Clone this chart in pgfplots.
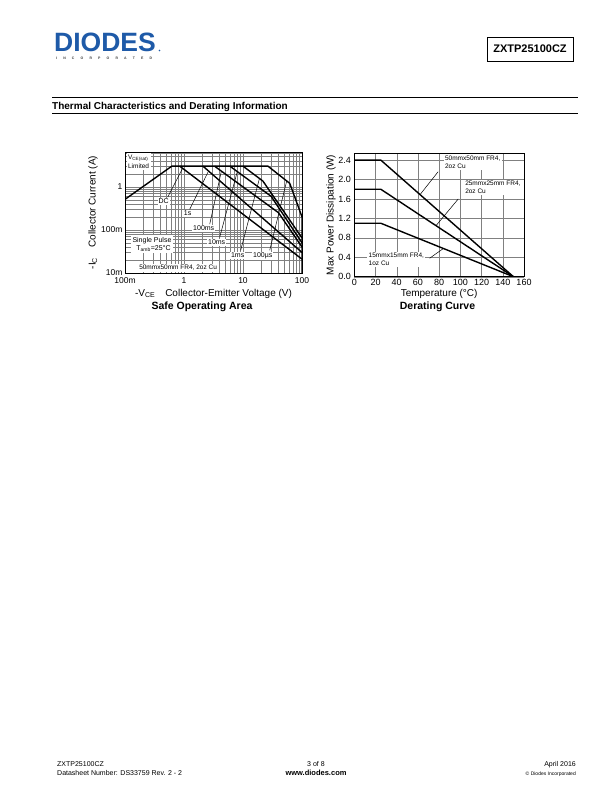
\documentclass[border=0pt]{standalone}
\usepackage{pgfplots}
\pgfplotsset{compat=1.18}
\usepackage{fontspec}
\setmainfont{Liberation Sans}
\definecolor{diodesblue}{RGB}{30,90,168}
\definecolor{gridgray}{gray}{0.5}
\newcommand{\fs}[1]{\fontsize{#1}{#1}\selectfont}
\begin{document}
\begin{tikzpicture}
\useasboundingbox[fill=white] (0,0) rectangle (612pt,-792pt);
% ---------- header ----------
\node[anchor=base west, inner sep=0, text=diodesblue, font=\fs{26.5}\bfseries] at (54pt,-52pt) {DIODES};
\fill[diodesblue] (159.5pt,-50.5pt) circle (0.9pt);
\node[anchor=base west, inner sep=0, text=black!75, font=\fs{3.5}\bfseries] at (56pt,-59.5pt) {\hbox to 96pt{I\hfill N\hfill C\hfill O\hfill R\hfill P\hfill O\hfill R\hfill A\hfill T\hfill E\hfill D}};
\draw[line width=0.8pt] (487pt,-37pt) rectangle (573pt,-61pt);
\node[font=\fs{11}\bfseries, inner sep=0] at (530pt,-49pt) {ZXTP25100CZ};
\draw[line width=1pt] (52pt,-97pt) -- (578pt,-97pt);
\node[anchor=base west, inner sep=0, font=\fs{10}\bfseries] at (52pt,-109pt) {Thermal Characteristics and Derating Information};
\draw[line width=0.6pt] (52pt,-113pt) -- (578pt,-113pt);
% ---------- footer ----------
\node[anchor=base west, inner sep=0, font=\fs{7}] at (57pt,-766pt) {ZXTP25100CZ};
\node[anchor=base west, inner sep=0, font=\fs{7}] at (57pt,-775pt) {Datasheet Number: DS33759 Rev. 2 - 2};
\node[anchor=base, inner sep=0, font=\fs{7}] at (316pt,-766pt) {3 of 8};
\node[anchor=base, inner sep=0, font=\fs{7.5}\bfseries] at (316pt,-775pt) {www.diodes.com};
\node[anchor=base east, inner sep=0, font=\fs{7}] at (576pt,-766pt) {April 2016};
\node[anchor=base east, inner sep=0, font=\fs{5}] at (576pt,-775pt) {© Diodes Incorporated};

% ---------- Safe Operating Area ----------
\begin{axis}[at={(125pt,-273pt)}, anchor=south west, scale only axis,
  width=177pt, height=121pt,
  xmode=log, ymode=log, xmin=0.1, xmax=100, ymin=0.01, ymax=6.4,
  xtick={0.1,1,10,100}, xticklabels={100m,1,10,100},
  ytick={0.01,0.1,1}, yticklabels={10m,100m,1},
  minor xtick={0.2,0.3,0.4,0.5,0.6,0.7,0.8,0.9,2,3,4,5,6,7,8,9,20,30,40,50,60,70,80,90},
  minor ytick={0.02,0.03,0.04,0.05,0.06,0.07,0.08,0.09,0.2,0.3,0.4,0.5,0.6,0.7,0.8,0.9,2,3,4,5,6},
  grid=both, major grid style={gridgray, line width=0.4pt}, minor grid style={gridgray, line width=0.4pt},
  major tick length=0pt, minor tick length=0pt,
  axis line style={line width=0.8pt},
  tick label style={font=\fs{8.5}},
  xticklabel style={yshift=-1.5pt},
  yticklabel style={xshift=1pt},
  xlabel={-V\textsubscript{CE}\quad Collector-Emitter Voltage (V)},
  ylabel={-I\textsubscript{C}\quad Collector Current (A)},
  label style={font=\fs{10}},
  every axis x label/.style={at={(axis description cs:0.5,-0.17)}, anchor=center},
  every axis y label/.style={at={(axis description cs:-0.18,0.5)}, rotate=90, anchor=center},
]
\addplot[black, line width=1.4pt] coordinates {(0.1,0.51) (0.62,3) (26.5,3) (62,1.2) (100,0.2) (100,0.01)};
\addplot[black, line width=1.4pt] coordinates {(0.85,3) (100,0.021)};
\addplot[black, line width=1.4pt] coordinates {(2.1,3) (100,0.03)};
\addplot[black, line width=1.4pt] coordinates {(3.3,3) (40,0.25) (100,0.04)};
\addplot[black, line width=1.4pt] coordinates {(6,3) (30,0.6) (100,0.05)};
\addplot[black, line width=1.4pt] coordinates {(10,3) (21.8,1.35) (100,0.065)};
% leaders
\draw[line width=0.5pt] (axis cs:0.53,0.576) -- (axis cs:0.95,2.7);
\draw[line width=0.5pt] (axis cs:1.25,0.30) -- (axis cs:2.6,2.31);
\draw[line width=0.5pt] (axis cs:2.73,0.136) -- (axis cs:4.3,2.3);
\draw[line width=0.5pt] (axis cs:4.03,0.0676) -- (axis cs:8,2.25);
\draw[line width=0.5pt] (axis cs:9.14,0.0337) -- (axis cs:19,1.56);
\draw[line width=0.5pt] (axis cs:28.4,0.0337) -- (axis cs:55,1.36);
% labels
\node[fill=white, inner sep=1pt, font=\fs{7}] at (axis cs:0.453,0.465) {DC};
\node[fill=white, inner sep=1pt, font=\fs{7}] at (axis cs:1.155,0.245) {1s};
\node[fill=white, inner sep=1pt, font=\fs{7}] at (axis cs:2.16,0.11) {100ms};
\node[fill=white, inner sep=1pt, font=\fs{7}] at (axis cs:3.58,0.0518) {10ms};
\node[fill=white, inner sep=1pt, font=\fs{7}] at (axis cs:8.13,0.0258) {1ms};
\node[fill=white, inner sep=1pt, font=\fs{7}] at (axis cs:21.6,0.0245) {100µs};
\node[fill=white, inner sep=1.5pt, anchor=north west, align=left, font=\fs{6.5}] at (axis description cs:0.008,0.99) {V\textsubscript{CE(sat)}\\[1pt]Limited};
\node[fill=white, inner sep=2pt, anchor=north west, align=left, font=\fs{7}] at (axis description cs:0.03,0.315) {Single Pulse\\[1pt]\ \ T\textsubscript{amb}=25°C};
\node[fill=white, inner sep=1pt, font=\fs{6.5}] at (axis description cs:0.30,0.041) {50mmx50mm FR4, 2oz Cu};
\end{axis}
\node[font=\fs{10.5}\bfseries] at (202pt,-307pt) {Safe Operating Area};

% ---------- Derating Curve ----------
\begin{axis}[at={(354.3pt,-276.7pt)}, anchor=south west, scale only axis,
  width=169.7pt, height=123.4pt,
  xmin=0, xmax=160, ymin=0, ymax=2.54,
  xtick={0,20,40,60,80,100,120,140,160},
  ytick={0,0.4,0.8,1.2,1.6,2.0,2.4},
  yticklabel style={/pgf/number format/.cd, fixed, fixed zerofill, precision=1},
  /pgf/number format/assume math mode=true,
  grid=major, major grid style={gridgray, line width=0.4pt},
  major tick length=0pt,
  axis line style={line width=0.8pt},
  tick label style={font=\fs{9}},
  xticklabel style={yshift=1pt},
  xlabel={Temperature (°C)},
  ylabel={Max Power Dissipation (W)},
  label style={font=\fs{10}},
  every axis x label/.style={at={(axis description cs:0.5,-0.14)}, anchor=center},
  every axis y label/.style={at={(axis description cs:-0.137,0.5)}, rotate=90, anchor=center},
]
\addplot[black, line width=1.4pt] coordinates {(0,2.4) (25,2.4) (150,0)};
\addplot[black, line width=1.4pt] coordinates {(0,1.8) (25,1.8) (150,0)};
\addplot[black, line width=1.4pt] coordinates {(0,1.1) (25,1.1) (150,0)};
\draw[line width=0.5pt] (axis cs:79,2.16) -- (axis cs:62,1.69);
\draw[line width=0.5pt] (axis cs:98,1.60) -- (axis cs:77,1.05);
\draw[line width=0.5pt] (axis cs:71,0.38) -- (axis cs:84,0.58);
\node[fill=white, inner sep=1.5pt, anchor=north west, align=left, font=\fs{6.5}] at (axis cs:84,2.52) {50mmx50mm FR4,\\[1pt]2oz Cu};
\node[fill=white, inner sep=1.5pt, anchor=north west, align=left, font=\fs{6.5}] at (axis cs:103,2.0) {25mmx25mm FR4,\\[1pt]2oz Cu};
\node[fill=white, inner sep=1.5pt, anchor=north west, align=left, font=\fs{6.5}] at (axis cs:12,0.52) {15mmx15mm FR4,\\[1pt]1oz Cu};
\end{axis}
\node[font=\fs{10.5}\bfseries] at (437.5pt,-307pt) {Derating Curve};
\end{tikzpicture}
\end{document}
